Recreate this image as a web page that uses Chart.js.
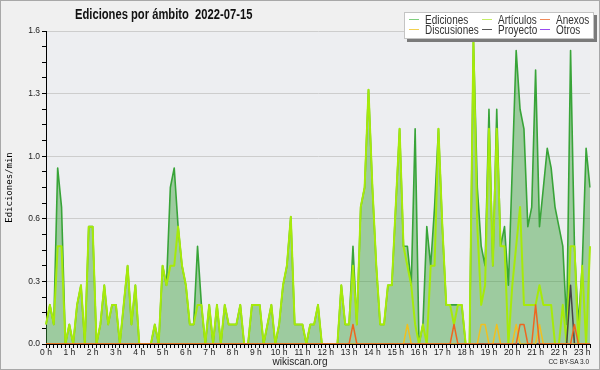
<!DOCTYPE html>
<html lang="es">
<head>
<meta charset="utf-8">
<title>Ediciones por ámbito 2022-07-15</title>
<script src="https://cdn.jsdelivr.net/npm/chart.js@4.4.1/dist/chart.umd.min.js"></script>
<style>
  html, body { margin: 0; padding: 0; background: #f0f0f0; }
  #wrap { position: relative; width: 600px; height: 370px; background: #f0f0f0; overflow: hidden;
          font-family: 'Liberation Sans', sans-serif; color: #222; }
  #chart { position: absolute; left: 0; top: 0; }
  #frame { position: absolute; left: 0; top: 0; width: 598px; height: 368px; border: 1px solid #a8a8a8; pointer-events: none; }
  #title { position: absolute; left: 75px; top: 7px; font-weight: bold; font-size: 14px; line-height: 1; color: #111;
           white-space: pre; transform: scaleX(0.8); transform-origin: 0 0; }
  #legend { position: absolute; left: 404px; top: 12px; width: 188px; height: 25px; background: #fff;
            border: 1px solid #c4c4c4; box-shadow: 3px 3px 0 #7a7a7a; }
  .lg-item { position: absolute; font-size: 12px; line-height: 1; color: #333; white-space: nowrap;
             transform: scaleX(0.83); transform-origin: 0 0; }
  .lg-line { position: absolute; width: 10px; height: 0; border-top: 1.5px solid; }
  #site { position: absolute; left: 0; width: 600px; top: 357px; text-align: center; font-size: 10px; line-height: 1; }
  #lic { position: absolute; right: 11px; top: 359px; font-size: 6.5px; line-height: 1; }
</style>
</head>
<body>
<div id="wrap">
  <canvas id="chart" width="600" height="370"></canvas>
  <div id="title">Ediciones por ámbito  2022-07-15</div>
  <div id="legend"></div>
  <div id="site">wikiscan.org</div>
  <div id="lic">CC BY-SA 3.0</div>
  <div id="frame"></div>
</div>
<script>
// ediciones por minuto, un punto cada 10 minutos (00:00 - 23:20)
const ediciones = [
  0.1, 0.2, 0.1, 0.9, 0.7, 0, 0.1, 0, 0.2, 0.3,
  0, 0.6, 0.6, 0, 0.1, 0.3, 0.1, 0.2, 0.2, 0,
  0.2, 0.4, 0.1, 0.3, 0, 0, 0, 0, 0.1, 0,
  0.4, 0.3, 0.8, 0.9, 0.6, 0.4, 0.3, 0.1, 0.1, 0.5,
  0.2, 0, 0.2, 0, 0.2, 0, 0.2, 0.1, 0.1, 0.1,
  0.2, 0, 0, 0.2, 0.2, 0.2, 0, 0.1, 0.2, 0,
  0.1, 0.3, 0.4, 0.65, 0.1, 0.1, 0.1, 0, 0.1, 0.1,
  0.2, 0, 0, 0, 0, 0, 0.3, 0.1, 0.1, 0.5,
  0.1, 0.7, 0.8, 1.3, 0.8, 0.4, 0.1, 0.1, 0.3, 0.3,
  0.7, 1.1, 0.5, 0.5, 0.3, 1.1, 0, 0.1, 0.6, 0.4,
  0.7, 1.1, 0.6, 0.2, 0.2, 0.2, 0.2, 0.2, 0, 0,
  1.55, 0.8, 0.5, 0.4, 1.2, 0.4, 1.2, 0.5, 0.6, 0.3,
  0.9, 1.5, 1.2, 1.1, 0.6, 0.7, 1.4, 0.6, 0.8, 1.0,
  0.9, 0.7, 0.6, 0.5, 0.1, 1.5, 0.5, 0.1, 0.4, 1.0,
  0.8
];
const articulos = [
  0.1, 0.2, 0.1, 0.5, 0.5, 0, 0.1, 0, 0.2, 0.3,
  0, 0.6, 0.6, 0, 0.1, 0.3, 0.1, 0.2, 0.2, 0,
  0.2, 0.4, 0.1, 0.3, 0, 0, 0, 0, 0.1, 0,
  0.4, 0.3, 0.4, 0.4, 0.6, 0.4, 0.3, 0.1, 0.1, 0.2,
  0.2, 0, 0.2, 0, 0.2, 0, 0.2, 0.1, 0.1, 0.1,
  0.2, 0, 0, 0.2, 0.2, 0.2, 0, 0.1, 0.2, 0,
  0.1, 0.3, 0.4, 0.65, 0.1, 0.1, 0.1, 0, 0.1, 0.1,
  0.2, 0, 0, 0, 0, 0, 0.3, 0.1, 0.1, 0.4,
  0.1, 0.7, 0.8, 1.3, 0.8, 0.4, 0.1, 0.1, 0.3, 0.3,
  0.7, 1.1, 0.5, 0.4, 0.3, 0.1, 0, 0.1, 0, 0.4,
  0.4, 1.1, 0.6, 0.2, 0.2, 0.1, 0.2, 0.2, 0, 0,
  1.55, 0.6, 0.2, 0.3, 1.1, 0.4, 1.1, 0.5, 0.5, 0,
  0.3, 0.5, 0.7, 0.2, 0.2, 0.2, 0.2, 0.3, 0.2, 0.2,
  0.2, 0, 0, 0.2, 0, 0.5, 0.5, 0, 0.4, 0,
  0.5
];
const anexos = Array(141).fill(0);
const discusiones = Array(141).fill(0);
const proyecto = Array(141).fill(0);
const otros = Array(141).fill(0);
// valores sueltos de las series pequeñas (índice -> valor)
const anexosPuntos = { 79: 0.1, 105: 0.1, 122: 0.1, 123: 0.1, 126: 0.2, 136: 0.1 };
const discusionesPuntos = { 93: 0.1, 112: 0.1, 113: 0.1, 116: 0.1, 121: 0.1, 127: 0.1 };
const proyectoPuntos = { 135: 0.3 };
Object.entries(anexosPuntos).forEach(([i, v]) => anexos[i] = v);
Object.entries(discusionesPuntos).forEach(([i, v]) => discusiones[i] = v);
Object.entries(proyectoPuntos).forEach(([i, v]) => proyecto[i] = v);

const yTicks = [0, 0.08, 0.16, 0.24, 0.32, 0.4, 0.48, 0.56, 0.64, 0.72, 0.8,
                0.88, 0.96, 1.04, 1.12, 1.2, 1.28, 1.36, 1.44, 1.52, 1.6];
const yMajor = [0, 0.32, 0.64, 0.96, 1.28, 1.6];

const times = [];
for (let m = 0; m <= 1400; m += 10) {
    times.push(String(Math.floor(m / 60)).padStart(2, '0') + ':' + String(m % 60).padStart(2, '0'));
}

const series = [
    { label: 'Ediciones', data: ediciones, color: '#38a438', legend: '#7fcf7f' },
    { label: 'Artículos', data: articulos, color: '#a6ea0a', legend: '#c4ee66' },
    { label: 'Anexos', data: anexos, color: '#ee6620', legend: '#f08a5a' },
    { label: 'Discusiones', data: discusiones, color: '#f0c020', legend: '#f2d050' },
    { label: 'Proyecto', data: proyecto, color: '#444444', legend: '#555555' },
    { label: 'Otros', data: otros, color: '#9933ee', legend: '#9a4cf0' }
];

const sans = "'Liberation Sans', sans-serif";
const isMajor = v => yMajor.some(m => Math.abs(m - v) < 1e-6);

// fondo del área de datos
const plotBg = {
    id: 'plotBg',
    beforeDraw(chart) {
        const { ctx, chartArea: a } = chart;
        ctx.save();
        ctx.fillStyle = '#edeef1';
        ctx.fillRect(a.left, a.top, a.right - a.left, a.bottom - a.top);
        ctx.restore();
    }
};

const datasets = series.map((s, i) => ({
    label: s.label,
    data: s.data,
    borderColor: s.color,
    backgroundColor: i === 0 ? 'rgba(60,160,60,0.45)' : s.color,
    fill: i === 0 ? 'origin' : false,
    borderWidth: i === 0 ? 1.6 : (i === 1 ? 2 : 1.5),
    borderJoinStyle: 'round',
    pointRadius: 0,
    tension: 0,
    order: i === 0 ? 10 : (i === 1 ? 5 : 1)
}));

new Chart(document.getElementById('chart').getContext('2d'), {
    type: 'line',
    data: { labels: times, datasets: datasets },
    options: {
        responsive: false,
        animation: false,
        layout: { padding: { top: 31, right: 10, left: 0, bottom: 0 } },
        plugins: { legend: { display: false }, tooltip: { enabled: false } },
        scales: {
            x: {
                type: 'category',
                offset: false,
                z: 1,
                border: { color: '#000', width: 1 },
                grid: { drawOnChartArea: false, drawTicks: true, tickLength: 4, color: '#000' },
                ticks: {
                    autoSkip: false, maxRotation: 0, minRotation: 0, padding: 0,
                    color: '#222', font: { family: sans, size: 8.5 },
                    callback: (v, i) => i % 6 === 0 ? (i / 6) + ' h' : ''
                },
                afterFit: s => { s.height = 26; }
            },
            y: {
                min: 0, max: 1.6,
                border: { color: '#000', width: 1 },
                grid: {
                    drawTicks: true, tickLength: 4,
                    color: c => isMajor(c.tick.value) ? '#cdcdcd' : 'rgba(0,0,0,0)',
                    tickColor: '#000'
                },
                afterBuildTicks: s => { s.ticks = yTicks.map(v => ({ value: v })); },
                ticks: {
                    autoSkip: false, padding: 2, color: '#222',
                    font: { family: sans, size: 8.5 },
                    callback: v => isMajor(v) ? v.toFixed(1) : ''
                },
                title: {
                    display: true, text: 'Ediciones/min', color: '#000',
                    font: { family: "'DejaVu Sans Mono', monospace", size: 9 },
                    padding: { top: 4, bottom: 0 }
                },
                afterFit: s => { s.width = 46; }
            }
        }
    },
    plugins: [plotBg]
});

// leyenda propia en 3 columnas
const legendBox = document.getElementById('legend');
const colX = [20, 93, 151];
series.forEach((s, i) => {
    const col = i < 3 ? i : i - 3;
    const row = i < 3 ? 0 : 1;
    const line = document.createElement('div');
    line.className = 'lg-line';
    line.style.borderTopColor = s.legend;
    line.style.left = (colX[col] - 16) + 'px';
    line.style.top = (6 + row * 10) + 'px';
    legendBox.appendChild(line);
    const txt = document.createElement('div');
    txt.className = 'lg-item';
    txt.textContent = s.label;
    txt.style.left = colX[col] + 'px';
    txt.style.top = (1 + row * 10) + 'px';
    legendBox.appendChild(txt);
});
</script>
</body>
</html>
